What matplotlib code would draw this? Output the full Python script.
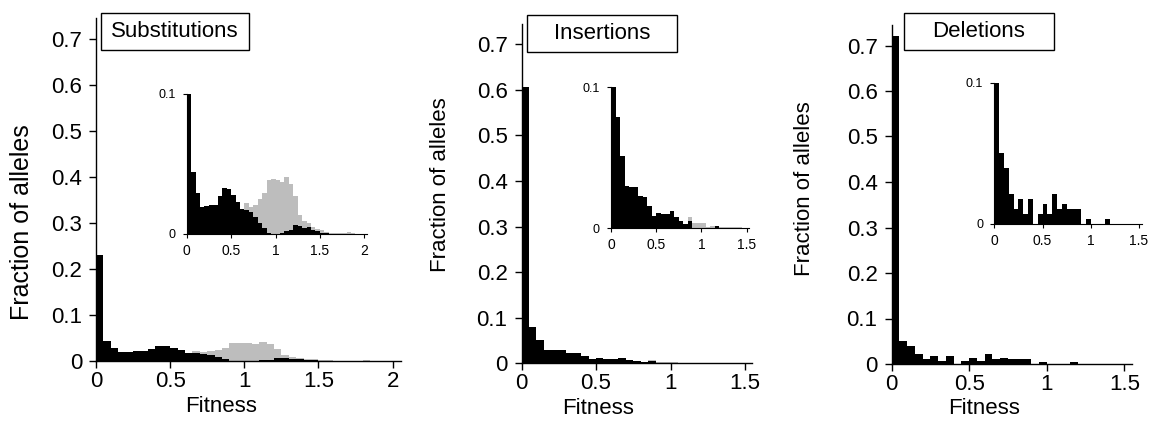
import numpy as np
import matplotlib
matplotlib.use("Agg")
import matplotlib.pyplot as plt
from matplotlib.patches import Rectangle

plt.rcParams["font.family"] = ["Liberation Sans", "DejaVu Sans"]

# ---------- Data (fraction of alleles per fitness bin, bin width 0.05) ----------
BIN = 0.05

sub_black = [0.230, 0.044, 0.029, 0.019, 0.020, 0.021, 0.021, 0.027, 0.033, 0.032,
             0.028, 0.023, 0.018, 0.017, 0.016, 0.012, 0.008, 0.004, 0.001, 0.0,
             0.0, 0.001, 0.002, 0.003, 0.0065, 0.006, 0.004, 0.005, 0.003, 0.002,
             0.001, 0.0005, 0.0, 0.0, 0.0, 0.0, 0.0, 0.0, 0.0, 0.0]
sub_grey = [0.004, 0.002, 0.002, 0.002, 0.003, 0.003, 0.004, 0.005, 0.006, 0.008,
            0.010, 0.012, 0.015, 0.022, 0.019, 0.021, 0.025, 0.029, 0.0385, 0.039,
            0.0385, 0.037, 0.041, 0.036, 0.027, 0.0135, 0.009, 0.0075, 0.005, 0.0035,
            0.0025, 0.0017, 0.001, 0.0008, 0.0008, 0.001, 0.0017, 0.0008, 0.0, 0.0]

ins_black = [0.605, 0.079, 0.051, 0.030, 0.0295, 0.029, 0.023, 0.022, 0.0155, 0.009,
             0.011, 0.010, 0.010, 0.0125, 0.0083, 0.0054, 0.003, 0.005, 0.0, 0.0,
             0.0, 0.0, 0.0, 0.0015, 0.0, 0.0, 0.0, 0.0, 0.0, 0.0]
ins_grey = [0.002, 0.002, 0.002, 0.002, 0.002, 0.002, 0.002, 0.002, 0.002, 0.002,
            0.002, 0.002, 0.002, 0.002, 0.002, 0.002, 0.002, 0.0083, 0.0035, 0.0035,
            0.0035, 0.001, 0.0017, 0.001, 0.0006, 0.0006, 0.0006, 0.0006, 0.0006, 0.0]

del_black = [0.721, 0.050, 0.0394, 0.0212, 0.0104, 0.0177, 0.0071, 0.0177, 0.0, 0.0071,
             0.0142, 0.0071, 0.0212, 0.0106, 0.0142, 0.0106, 0.0106, 0.0106, 0.0, 0.0035,
             0.0, 0.0, 0.0, 0.0035, 0.0, 0.0, 0.0, 0.0, 0.0, 0.0]

titles = ["Substitutions", "Insertions", "Deletions"]
main_xticks = [[0, 0.5, 1, 1.5, 2], [0, 0.5, 1, 1.5], [0, 0.5, 1, 1.5]]
inset_xticks = main_xticks
yticks = [0, 0.1, 0.2, 0.3, 0.4, 0.5, 0.6, 0.7]

GREY = "#bdbdbd"
W, H = 1149, 421

fig = plt.figure(figsize=(W / 100, H / 100), dpi=100)


def px_axes(left, bottom, width, height):
    # pixel box (left, bottom-from-top) -> figure fraction
    return fig.add_axes([left / W, 1 - bottom / H, width / W, height / H])


def px_text(x, y, s, **kw):
    return fig.text(x / W, 1 - y / H, s, ha="center", va="center", **kw)


def fmt(v):
    return ("%g" % v)


def draw_hist(ax, black, grey):
    if grey is not None:
        ax.bar(np.arange(len(grey)) * BIN, grey, width=BIN, align="edge",
               color=GREY, linewidth=0)
    ax.bar(np.arange(len(black)) * BIN, black, width=BIN, align="edge",
           color="black", linewidth=0)


def style(ax, lw):
    for s in ["top", "right"]:
        ax.spines[s].set_visible(False)
    for s in ["left", "bottom"]:
        ax.spines[s].set_linewidth(lw)


# (left px, bottom px, px per fitness unit, px per fraction unit, xmax)
main_geo = [(96, 361, 148.3, 460, 2.06),
            (521.5, 363.3, 149, 456, 1.55),
            (891.5, 364, 155.3, 455, 1.55)]
inset_geo = [(186.7, 234, 88.8, 1400, 2.03),
             (611, 228.3, 90.4, 1410, 1.53),
             (994.3, 224, 96.5, 1413, 1.53)]
box_geo = [(101, 13, 148, 37), (527, 15, 150, 37), (904, 13, 150, 37)]
ylabel_pos = [(22, 222, 18), (440, 185, 16), (805, 189, 16)]
xlabel_pos = [(221, 407), (598, 409), (984, 409)]

series = [(sub_black, sub_grey), (ins_black, ins_grey), (del_black, None)]
YMAX = 0.745

for i, (black, grey) in enumerate(series):
    l, b, xs, ys, xmax = main_geo[i]
    ax = px_axes(l, b, xs * xmax, ys * YMAX)
    draw_hist(ax, black, grey)
    ax.set_xlim(0, xmax)
    ax.set_ylim(0, YMAX)
    style(ax, 1.0)
    ax.set_xticks(main_xticks[i])
    ax.set_xticklabels([fmt(v) for v in main_xticks[i]])
    ax.set_yticks(yticks)
    ax.set_yticklabels([fmt(v) for v in yticks])
    ax.tick_params(axis="both", direction="out", length=5, width=1.0, labelsize=16)
    ax.tick_params(axis="x", pad=2)
    ax.tick_params(axis="y", pad=5)

    px_text(*xlabel_pos[i], "Fitness", fontsize=16)
    yx, yy, yfs = ylabel_pos[i]
    px_text(yx, yy, "Fraction of alleles", rotation=90, fontsize=yfs)

    # title box
    bx, by, bw, bh = box_geo[i]
    fig.patches.append(Rectangle((bx / W, 1 - (by + bh) / H), bw / W, bh / H,
                                 transform=fig.transFigure, facecolor="white",
                                 edgecolor="black", linewidth=1.0, zorder=5))
    px_text(bx + bw / 2, by + bh / 2, titles[i], fontsize=16, zorder=6)

    # inset (same data, clipped at 0.1)
    il, ib, ixs, iys, ixmax = inset_geo[i]
    ia = px_axes(il, ib, ixs * ixmax, iys * 0.1)
    draw_hist(ia, black, grey)
    ia.set_xlim(0, ixmax)
    ia.set_ylim(0, 0.1)
    style(ia, 0.8)
    ia.set_xticks(inset_xticks[i])
    ia.set_xticklabels([fmt(v) for v in inset_xticks[i]], fontsize=10)
    ia.set_yticks([0, 0.1])
    ia.set_yticklabels(["0", "0.1"], fontsize=9)
    ia.tick_params(axis="both", direction="out", length=3, width=0.8)
    ia.tick_params(axis="x", pad=4)
    ia.tick_params(axis="y", pad=5)

fig.savefig("out.png", dpi=100)
